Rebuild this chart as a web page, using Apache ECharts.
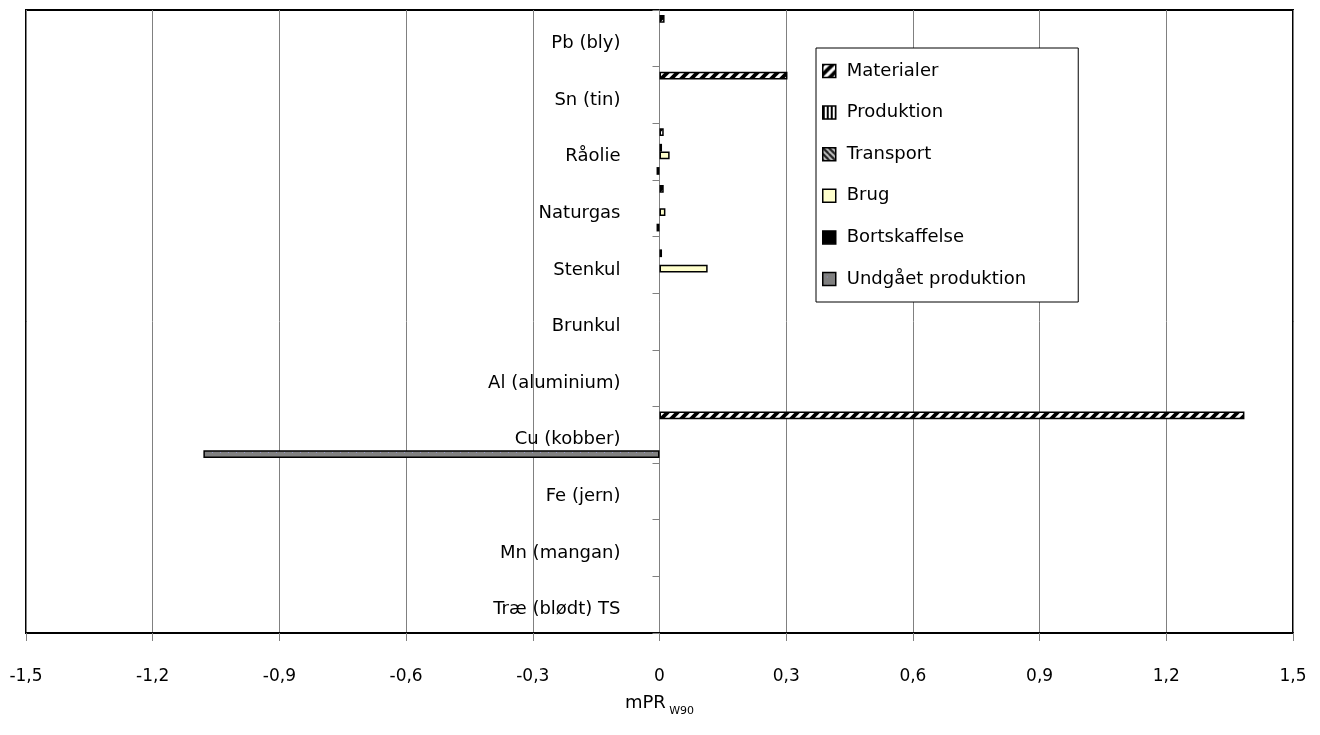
<!DOCTYPE html>
<html><head><meta charset="utf-8">
<script src="https://cdn.jsdelivr.net/npm/echarts@6/dist/echarts.min.js"></script>
<style>html,body{margin:0;padding:0;background:#fff}#c{width:1320px;height:735px}</style>
</head><body><div id="c"></div>
<script>
const categories = ['Pb (bly)','Sn (tin)','Råolie','Naturgas','Stenkul','Brunkul','Al (aluminium)','Cu (kobber)','Fe (jern)','Mn (mangan)','Træ (blødt) TS'];
const seriesNames = ['Materialer','Produktion','Transport','Brug','Bortskaffelse','Undgået produktion'];
const materialer    = [0.012, 0.303, 0.010, 0.010, null, null, null, 1.385, null, null, null];
const produktion    = [null, null, null, null, 0.006, null, null, null, null, null, null];
const transport     = [null, null, 0.006, null, null, null, null, null, null, null, null];
const brug          = [null, null, 0.024, 0.014, 0.114, null, null, null, null, null, null];
const bortskaffelse = [null, null, null, null, null, null, null, null, null, null, null];
const undgaaet      = [null, null, -0.007, -0.007, null, null, null, -1.080, null, null, null];
const xMin = -1.5, xMax = 1.5, xStep = 0.3;

function pat(w, h, draw) {
  const c = document.createElement('canvas');
  c.width = w; c.height = h;
  const g = c.getContext('2d');
  draw(g, w, h);
  return { image: c, repeat: 'repeat' };
}
const pMat = pat(10, 10, (g, w, h) => {
  g.fillStyle = '#fff'; g.fillRect(0, 0, w, h);
  g.strokeStyle = '#000'; g.lineWidth = 3.8;
  [[-10, 10, 10, -10], [0, 10, 10, 0], [0, 20, 20, 0]].forEach(([a, b, c2, d]) => {
    g.beginPath(); g.moveTo(a, b); g.lineTo(c2, d); g.stroke();
  });
});
const pProd = pat(4, 4, (g, w, h) => {
  g.fillStyle = '#fff'; g.fillRect(0, 0, w, h);
  g.fillStyle = '#000'; g.fillRect(0, 0, 2, h);
});
const pTrans = pat(6, 6, (g, w, h) => {
  g.fillStyle = '#c8c8c8'; g.fillRect(0, 0, w, h);
  g.strokeStyle = '#222'; g.lineWidth = 2;
  [[-6, 0, 6, 12], [0, 0, 6, 6], [0, -6, 12, 6], [-6, -6, 6, 6]].forEach(([a, b, c2, d]) => {
    g.beginPath(); g.moveTo(a, b); g.lineTo(c2, d); g.stroke();
  });
});
const pUnd = pat(8, 8, (g, w, h) => {
  g.fillStyle = '#808080'; g.fillRect(0, 0, w, h);
  g.fillStyle = '#9898c8'; g.fillRect(4, 4, 1, 1);
});

const fills = [pMat, pProd, pTrans, '#FFFFCC', '#000000', pUnd];
const values = [materialer, produktion, transport, brug, bortskaffelse, undgaaet];
const FONT = 'DejaVu Sans';

const W = 1320, GL = 26, GR = 27;
const plotW = W - GL - GR;
const zeroOffset = -((0 - xMin) / (xMax - xMin)) * plotW;

const chart = echarts.init(document.getElementById('c'), null, { renderer: 'canvas' });
chart.setOption({
  animation: false,
  backgroundColor: '#fff',
  grid: { left: GL, right: GR, top: 10, bottom: 102, outerBoundsMode: 'none', containLabel: false,
          show: true, borderColor: '#000', borderWidth: 2, backgroundColor: 'transparent' },
  legend: {
    orient: 'vertical', left: 816, top: 48,
    data: seriesNames,
    itemWidth: 13, itemHeight: 13, itemGap: 21.6,
    padding: [13, 52, 13, 6],
    backgroundColor: '#fff', borderColor: '#000', borderWidth: 1,
    icon: 'rect',
    itemStyle: { borderColor: '#000', borderWidth: 1.5 },
    textStyle: { fontFamily: FONT, fontSize: 18, color: '#000', lineHeight: 20, padding: [0, 0, 0, 6] },
    selectedMode: false
  },
  xAxis: {
    type: 'value', min: xMin, max: xMax, interval: xStep,
    axisLine: { show: true, lineStyle: { color: '#000', width: 2 } },
    axisTick: { show: true, length: 8, lineStyle: { color: '#808080' } },
    splitLine: { show: true, lineStyle: { color: '#808080', width: 1 } },
    axisLabel: {
      margin: 35, fontFamily: FONT, fontSize: 17, color: '#000',
      formatter: v => (Math.abs(v) < 1e-9 ? '0' : v.toFixed(1).replace('.', ','))
    },
    name: '{a|mPR} {b|W90}',
    nameLocation: 'middle', nameGap: 56,
    nameTextStyle: {
      rich: {
        a: { fontFamily: FONT, fontSize: 18, color: '#000', lineHeight: 28, verticalAlign: 'middle' },
        b: { fontFamily: FONT, fontSize: 11, color: '#000', lineHeight: 11, verticalAlign: 'bottom' }
      }
    }
  },
  yAxis: {
    type: 'category', data: categories, inverse: true,
    position: 'left', offset: zeroOffset,
    axisLine: { show: true, onZero: false, lineStyle: { color: '#808080', width: 1 } },
    axisTick: { show: true, length: 7, lineStyle: { color: '#808080' } },
    axisLabel: {
      margin: 39,
      formatter: v => '{t|' + v + '}',
      rich: { t: { fontFamily: FONT, fontSize: 18, color: '#000', padding: [10, 0, 0, 0] } }
    },
    splitLine: { show: false }
  },
  series: seriesNames.map((n, i) => ({
    name: n, type: 'bar', data: values[i],
    barCategoryGap: '18%', barGap: '0%',
    itemStyle: { color: fills[i], borderColor: '#000', borderWidth: 1.5 },
    emphasis: { disabled: true }
  }))
});
</script></body></html>
